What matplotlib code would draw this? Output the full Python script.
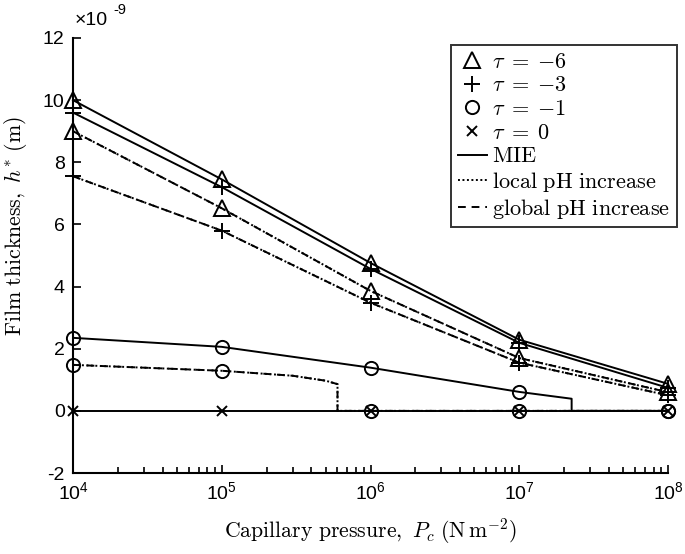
"""Film thickness h* versus capillary pressure for several tau values
(MIE vs. local / global pH increase). Saves out.png (685x554)."""
import matplotlib as mpl
import matplotlib.pyplot as plt
from matplotlib.lines import Line2D

mpl.rcParams.update({"mathtext.fontset": "cm", "font.family": "Liberation Sans",
                     "axes.unicode_minus": False})

# capillary pressure at the marker positions (N m^-2)
pc = [1e4, 1e5, 1e6, 1e7, 1e8]

# film thickness, units of 1e-9 m
h_mie_m6 = [10.0, 7.45, 4.76, 2.29, 0.87]
h_mie_m3 = [9.6, 7.2, 4.57, 2.19, 0.74]
h_local_m6 = [9.0, 6.52, 3.86, 1.70, 0.60]
h_global_m6 = [9.0, 6.52, 3.86, 1.70, 0.60]
h_local_m3 = [7.55, 5.80, 3.48, 1.55, 0.50]
h_global_m3 = [7.55, 5.80, 3.48, 1.55, 0.50]
h_zero = [0, 0, 0, 0, 0]

# tau = -1 curves collapse to zero; extra points mark the drop
pc_mie_m1 = [1e4, 1e5, 1e6, 1e7, 2.25e7, 2.25e7, 1e8]
h_mie_m1 = [2.35, 2.06, 1.39, 0.61, 0.39, 0.0, 0.0]
h_mie_m1_mk = [2.35, 2.06, 1.39, 0.61, 0.0]
pc_loc_m1 = [1e4, 1e5, 3e5, 5e5, 6e5, 6e5, 1e8]
h_loc_m1 = [1.48, 1.29, 1.13, 0.97, 0.86, 0.0, 0.0]
h_loc_m1_mk = [1.48, 1.29, 0.0, 0.0, 0.0]

LW = 1.4
DOT = (0, (1, 1.3))
DASH = (0, (4, 3))
mk = dict(color="k", mfc="none", mew=1.4, ls="none")

fig = plt.figure(figsize=(6.85, 5.54), dpi=100)
ax = fig.add_axes([73 / 685, 1 - 473 / 554, 595 / 685, 435 / 554])

# lines
ax.plot(pc, h_mie_m6, "k-", lw=LW)
ax.plot(pc, h_mie_m3, "k-", lw=LW)
ax.plot(pc, h_local_m6, color="k", ls=DOT, lw=LW)
ax.plot(pc, h_global_m6, color="k", ls=DASH, lw=LW)
ax.plot(pc, h_local_m3, color="k", ls=DOT, lw=LW)
ax.plot(pc, h_global_m3, color="k", ls=DASH, lw=LW)
ax.plot(pc_mie_m1, h_mie_m1, "k-", lw=LW)
ax.plot(pc_loc_m1, h_loc_m1, color="k", ls=DOT, lw=LW)
ax.plot(pc_loc_m1, h_loc_m1, color="k", ls=DASH, lw=LW)
ax.plot(pc, h_zero, "k-", lw=LW)

# markers
ax.plot(pc, h_mie_m6, marker="^", ms=11, **mk)
ax.plot(pc, h_local_m6, marker="^", ms=11, **mk)
ax.plot(pc, h_mie_m3, marker="+", ms=11, **mk)
ax.plot(pc, h_local_m3, marker="+", ms=11, **mk)
ax.plot(pc, h_mie_m1_mk, marker="o", ms=9.5, **mk)
ax.plot(pc, h_loc_m1_mk, marker="o", ms=9.5, **mk)
ax.plot(pc, h_zero, marker="x", ms=6.5, **mk)

ax.set_xscale("log")
ax.set_xlim(1e4, 1e8)
ax.set_ylim(-2, 12)
ax.set_yticks(range(-2, 13, 2))
for s in ("top", "right"):
    ax.spines[s].set_visible(False)
for s in ("left", "bottom"):
    ax.spines[s].set_linewidth(1.5)
ax.tick_params(which="both", direction="in", width=1.2, labelsize=14)
ax.tick_params(which="major", length=6, pad=6)
ax.tick_params(which="minor", length=4)
for ln in ax.lines:
    ln.set_clip_on(False)

ax.set_xlabel(r"$\mathrm{Capillary\ pressure,}\ P_c\ (\mathrm{N\,m^{-2}})$", fontsize=15.7)
ax.set_ylabel(r"$\mathrm{Film\ thickness,}\ h^{*}\ (\mathrm{m})$", fontsize=15.7)
ax.xaxis.set_label_coords(0.5, -0.101)
ax.yaxis.set_label_coords(-0.074, 0.567)

fig.text(75 / 685, 1 - 25 / 554, "×10", fontsize=14, ha="left", va="baseline")
fig.text(113 / 685, 1 - 14 / 554, "-9", fontsize=10.5, ha="left", va="baseline")

handles = [
    Line2D([], [], marker="^", ms=11, **mk),
    Line2D([], [], marker="+", ms=11, **mk),
    Line2D([], [], marker="o", ms=9.5, **mk),
    Line2D([], [], marker="x", ms=6.5, **mk),
    Line2D([], [], color="k", lw=LW),
    Line2D([], [], color="k", lw=LW, ls=DOT),
    Line2D([], [], color="k", lw=LW, ls=DASH),
]
labels = [r"$\tau\;=\;{-6}$", r"$\tau\;=\;{-3}$", r"$\tau\;=\;{-1}$", r"$\tau\;=\;0$",
          r"$\mathrm{MIE}$", r"$\mathrm{local\ pH\ increase}$",
          r"$\mathrm{global\ pH\ increase}$"]
leg = ax.legend(handles, labels, loc="upper right",
                bbox_to_anchor=((677 - 73) / 595, (473 - 45) / 435),
                fontsize=16, frameon=True, fancybox=False, edgecolor="k",
                handlelength=1.3, handletextpad=0.25, borderpad=0.3,
                labelspacing=0.12, borderaxespad=0.0)
leg.get_frame().set_linewidth(1.4)

fig.savefig("out.png", dpi=100)
